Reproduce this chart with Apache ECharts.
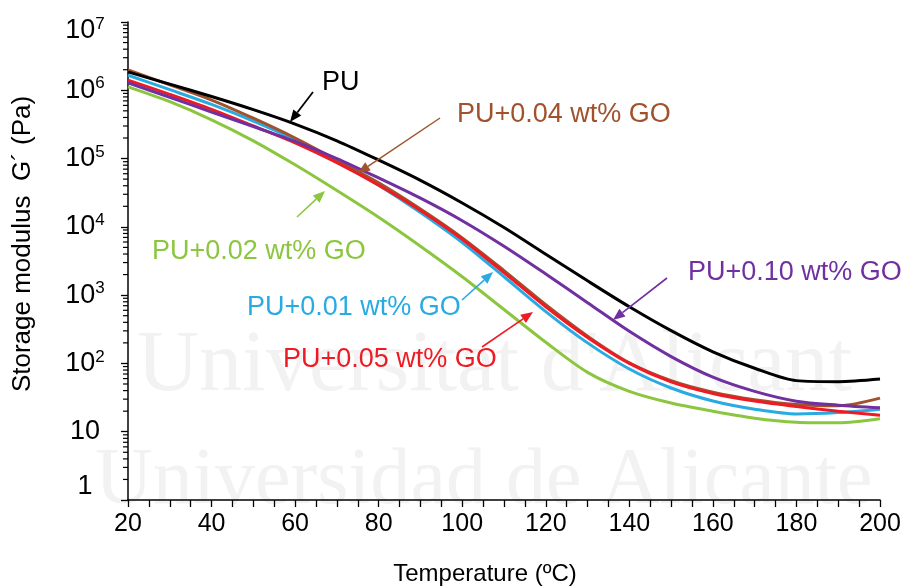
<!DOCTYPE html>
<html>
<head>
<meta charset="utf-8">
<script src="https://cdn.jsdelivr.net/npm/echarts@6/dist/echarts.min.js"></script>
<style>
  html, body { margin: 0; padding: 0; background: #fff; }
  #chart { width: 909px; height: 587px; }
</style>
</head>
<body>
<div id="chart"></div>
<script>
// Temperature sweep (ºC)
const temps = [20, 30, 40, 50, 60, 70, 80, 90, 100, 110, 120, 130, 140, 150, 160, 170, 180, 190, 200];

// Storage modulus G' (Pa) for each formulation
const gPU   = [1.86e6, 1.23e6, 8.1e5, 5.2e5, 3.2e5, 1.82e5, 9.5e4, 4.8e4, 2.24e4, 9.8e3, 3.98e3, 1.62e3, 676, 302, 148, 85, 56, 54, 59];
const gGO01 = [1.66e6, 1.02e6, 6.2e5, 3.55e5, 1.9e5, 9.3e4, 4.07e4, 1.62e4, 5.9e3, 1.86e3, 575, 200, 83, 43.7, 28.2, 21.4, 18.2, 19.1, 21.4];
const gGO02 = [1.12e6, 6.8e5, 3.7e5, 1.82e5, 8.1e4, 3.4e4, 1.38e4, 5.2e3, 1.86e3, 617, 204, 74, 39, 26.3, 20, 15.8, 13.8, 13.5, 15.5];
const gGO04 = [1.995e6, 1.2e6, 7.2e5, 3.9e5, 2.0e5, 9.5e4, 4.4e4, 1.82e4, 6.9e3, 2.29e3, 724, 251, 102, 56, 38, 29.5, 25.1, 24, 31];
const gGO05 = [1.41e6, 8.7e5, 5.25e5, 3.0e5, 1.7e5, 8.7e4, 4.07e4, 1.74e4, 6.6e3, 2.14e3, 676, 240, 100, 53.7, 36.3, 28.2, 23.4, 20, 17.4];
const gGO10 = [1.29e6, 7.9e5, 4.8e5, 2.95e5, 1.78e5, 1.0e5, 5.2e4, 2.63e4, 1.23e4, 5.2e3, 2.04e3, 776, 295, 126, 63, 39, 28, 24.5, 22.4];

// Axis tick labels
const xTickLabels = ['20', '40', '60', '80', '100', '120', '140', '160', '180', '200'];
const yDecadeExp  = [0, 1, 2, 3, 4, 5, 6, 7];

const FONT = "'Liberation Sans', Arial, sans-serif";

const COLORS = {
  pu: '#000000',
  go01: '#29ABE2',
  go02: '#8CC63F',
  go04: '#A0522D',
  go05: '#ED1C24',
  go10: '#7030A0'
};

// Minor log ticks (2..9 within each decade)
const yMinor = [];
for (let k = 0; k < 7; k++) {
  for (let m = 2; m <= 9; m++) yMinor.push([20, m * Math.pow(10, k)]);
}

function pairs(vals) { return temps.map((t, i) => [t, vals[i]]); }

function lineSeries(name, vals, color) {
  return {
    name: name, type: 'line', data: pairs(vals), showSymbol: false, smooth: 0.3,
    lineStyle: { color: color, width: 3 }, itemStyle: { color: color }, z: 3
  };
}

// Arrow = shaft + triangular head pointing at (x2, y2)
function arrow(x1, y1, x2, y2, color, w) {
  const a = Math.atan2(y2 - y1, x2 - x1);
  const L = 12, H = 5;
  const bx = x2 - L * Math.cos(a), by = y2 - L * Math.sin(a);
  const px = -Math.sin(a) * H, py = Math.cos(a) * H;
  return [
    { type: 'line', shape: { x1: x1, y1: y1, x2: bx, y2: by }, style: { stroke: color, lineWidth: w || 1.6 }, z: 10 },
    { type: 'polygon', shape: { points: [[x2, y2], [bx + px, by + py], [bx - px, by - py]] }, style: { fill: color }, z: 10 }
  ];
}

function label(text, x, y, color) {
  return { type: 'text', x: x, y: y, z: 10,
    style: { text: text, fill: color, font: '27px ' + FONT, textAlign: 'left', textVerticalAlign: 'middle' } };
}

const chart = echarts.init(document.getElementById('chart'), null, { renderer: 'canvas' });

const base = { fontSize: 27, fontFamily: FONT, color: '#000', lineHeight: 30 };
const sup  = { fontSize: 17, fontFamily: FONT, color: '#000', lineHeight: 30, verticalAlign: 'top', padding: [0, 0, 10, 0] };

const option = {
  backgroundColor: '#ffffff',
  animation: false,
  grid: { left: 128, right: 29, top: 22, bottom: 87 },
  xAxis: {
    type: 'value', min: 20, max: 200, interval: 20,
    axisLine: { show: true, onZero: false, lineStyle: { color: '#000', width: 1.5 } },
    axisTick: { show: true, inside: false, length: 7, lineStyle: { color: '#000', width: 1.3 } },
    minorTick: { show: true, splitNumber: 4, length: 7, lineStyle: { color: '#000', width: 1.3 } },
    splitLine: { show: false },
    axisLabel: {
      color: '#000', fontSize: 25, fontFamily: FONT, margin: 12,
      formatter: v => xTickLabels[Math.round((v - 20) / 20)] || ''
    }
  },
  yAxis: {
    type: 'log', logBase: 10, min: 1, max: 1e7, interval: 1,
    axisLine: { show: true, onZero: false, lineStyle: { color: '#000', width: 1.5 } },
    axisTick: { show: true, inside: false, length: 7, lineStyle: { color: '#000', width: 1.3 } },
    splitLine: { show: false },
    axisLabel: {
      color: '#000', fontFamily: FONT, margin: 43, align: 'center',
      formatter: v => {
        const e = Math.round(Math.log10(v));
        if (yDecadeExp.indexOf(e) < 0) return '';
        if (e === 0) return '{one|1}';                 // sits just above the axis corner
        if (e === 1) return '{b|10}';
        if (e === 7) return '{sp| }\n{b|10}{s|7}';     // nudged down inside the top edge
        return '{b|10}{s|' + e + '}';
      },
      rich: {
        b: base,
        s: sup,
        one: Object.assign({}, base, { padding: [0, 0, 26, 0] }),
        sp: { fontSize: 2, lineHeight: 18 }
      }
    }
  },
  graphic: [
    // faint background lettering
    { type: 'text', x: 137, y: 410, z: -5, silent: true,
      style: { text: "Universitat d'Alicant", fill: '#f2f2f2', font: '86px "Liberation Serif", "DejaVu Serif", serif', textVerticalAlign: 'bottom' } },
    { type: 'text', x: 95, y: 522, z: -5, silent: true,
      style: { text: 'Universidad de Alicante', fill: '#f2f2f2', font: '80px "Liberation Serif", "DejaVu Serif", serif', textVerticalAlign: 'bottom' } },

    // axis titles
    { type: 'text', x: 485, y: 574, z: 10,
      style: { text: 'Temperature (ºC)', fill: '#000', font: '24px ' + FONT, textAlign: 'center', textVerticalAlign: 'middle' } },
    { type: 'text', x: 23, y: 244, rotation: Math.PI / 2, z: 10,
      style: { text: 'Storage modulus  G´ (Pa)', fill: '#000', font: '26px ' + FONT, textAlign: 'center', textVerticalAlign: 'middle' } },

    // curve annotations
    label('PU', 322, 83, COLORS.pu),
    ...arrow(313, 92, 290, 122, COLORS.pu, 1.8),
    label('PU+0.04 wt% GO', 457, 115, COLORS.go04),
    ...arrow(440, 118, 358, 173, COLORS.go04, 1.5),
    label('PU+0.02 wt% GO', 152, 252, COLORS.go02),
    ...arrow(297, 217, 325, 191, COLORS.go02, 1.6),
    label('PU+0.01 wt% GO', 247, 308, COLORS.go01),
    ...arrow(462, 300, 493, 272, COLORS.go01, 1.6),
    label('PU+0.05 wt% GO', 283, 360, COLORS.go05),
    ...arrow(482, 347, 533, 312, COLORS.go05, 1.6),
    label('PU+0.10 wt% GO', 688, 273, COLORS.go10),
    ...arrow(667, 278, 613, 320, COLORS.go10, 1.6)
  ],
  series: [
    {
      type: 'custom', name: 'minorTicks', data: yMinor, clip: false, silent: true, z: 4,
      renderItem: (params, api) => {
        const p = api.coord([api.value(0), api.value(1)]);
        return { type: 'line', shape: { x1: p[0] - 5, y1: p[1], x2: p[0], y2: p[1] },
                 style: { stroke: '#000', lineWidth: 1.2 } };
      }
    },
    lineSeries('PU+0.02 wt% GO', gGO02, COLORS.go02),
    lineSeries('PU+0.01 wt% GO', gGO01, COLORS.go01),
    lineSeries('PU+0.04 wt% GO', gGO04, COLORS.go04),
    lineSeries('PU+0.05 wt% GO', gGO05, COLORS.go05),
    lineSeries('PU+0.10 wt% GO', gGO10, COLORS.go10),
    lineSeries('PU', gPU, COLORS.pu)
  ]
};

chart.setOption(option);
</script>
</body>
</html>
